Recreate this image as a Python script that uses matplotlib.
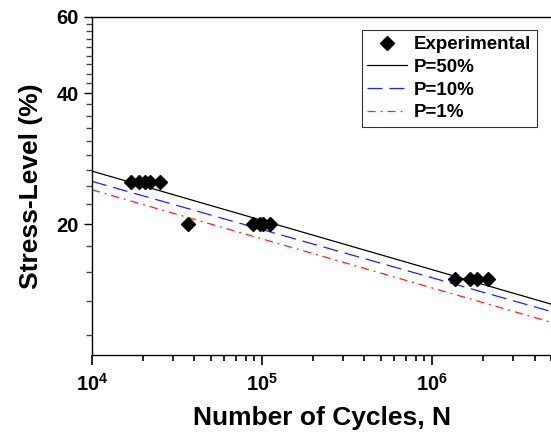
import numpy as np
import matplotlib
matplotlib.use("Agg")
import matplotlib.pyplot as plt

plt.rcParams['font.family'] = ['Liberation Sans', 'DejaVu Sans']
plt.rcParams['font.weight'] = 'bold'
plt.rcParams['mathtext.fontset'] = 'custom'
plt.rcParams['mathtext.rm'] = 'Liberation Sans:bold'
plt.rcParams['mathtext.bf'] = 'Liberation Sans:bold'

# experimental points (cycles, stress level %)
exp_cycles = [17000, 19000, 20600, 21800, 25200, 36800,
              89000, 97000, 101000, 112000,
              1370000, 1680000, 1840000, 2140000]
exp_stress = [25, 25, 25, 25, 25, 20,
              20, 20, 20, 20,
              15, 15, 15, 15]

# fitted S-N lines, end points
fit_cycles = [1e4, 5e6]
p50_stress = [26.5, 13.1]
p10_stress = [25.1, 12.6]
p1_stress = [24.0, 11.9]

fig = plt.figure(figsize=(5.51, 4.33), dpi=100)
ax = fig.add_axes([0.167, 0.180, 0.833, 0.781])

ax.plot(exp_cycles, exp_stress, 'D', color='black', ms=7, label='Experimental', zorder=5)
ax.plot(fit_cycles, p50_stress, '-', color='black', lw=0.9, label='P=50%')
ax.plot(fit_cycles, p10_stress, '--', color='#2020ff', lw=0.9, dashes=(12, 5.5), label='P=10%')
ax.plot(fit_cycles, p1_stress, '-.', color='#ff2020', lw=0.9, dashes=(6.5, 4, 1.5, 4), label='P=1%')

ax.set_xscale('log')
ax.set_yscale('log')
ax.set_xlim(1e4, 5e6)
ax.set_ylim(10, 60)

ax.set_xticks([1e4, 1e5, 1e6])
ax.set_xticklabels([r'$\mathbf{10^4}$', r'$\mathbf{10^5}$', r'$\mathbf{10^6}$'])
x_minor = [k * 10.0 ** e for e in (4, 5, 6) for k in range(2, 10) if k * 10.0 ** e <= 5e6]
ax.set_xticks(x_minor, minor=True)
ax.set_xticklabels([], minor=True)
ax.set_yticks([20, 40, 60])
ax.set_yticklabels(['20', '40', '60'])
ax.set_yticks([k * 20 / 9 for k in range(5, 28) if k % 9 != 0], minor=True)
ax.set_yticklabels([], minor=True)

ax.tick_params(which='major', length=6, width=1, labelsize=14.5, direction='out')
ax.tick_params(which='minor', length=4, width=1, direction='out', color='#444444')
ax.tick_params(axis='x', which='both', bottom=True, top=False, pad=6)
ax.tick_params(axis='x', which='minor', length=4, width=1.2, color='black')
ax.tick_params(axis='x', which='major', length=7, width=1.2, color='black')

ax.spines['right'].set_visible(False)
for s in ['left', 'bottom', 'top']:
    ax.spines[s].set_linewidth(1)

ax.set_xlabel('Number of Cycles, N', fontsize=19, fontweight='bold', labelpad=8)
ax.set_ylabel('Stress-Level (%)', fontsize=19, fontweight='bold', labelpad=10)

leg = ax.legend(loc='upper right', bbox_to_anchor=(0.97, 0.96), fontsize=13.5,
                frameon=True, fancybox=False, edgecolor='black', handlelength=2.1,
                handletextpad=0.4, borderpad=0.3, labelspacing=0.3, borderaxespad=0)
leg.get_frame().set_linewidth(0.8)

fig.savefig('out.png', dpi=100)
